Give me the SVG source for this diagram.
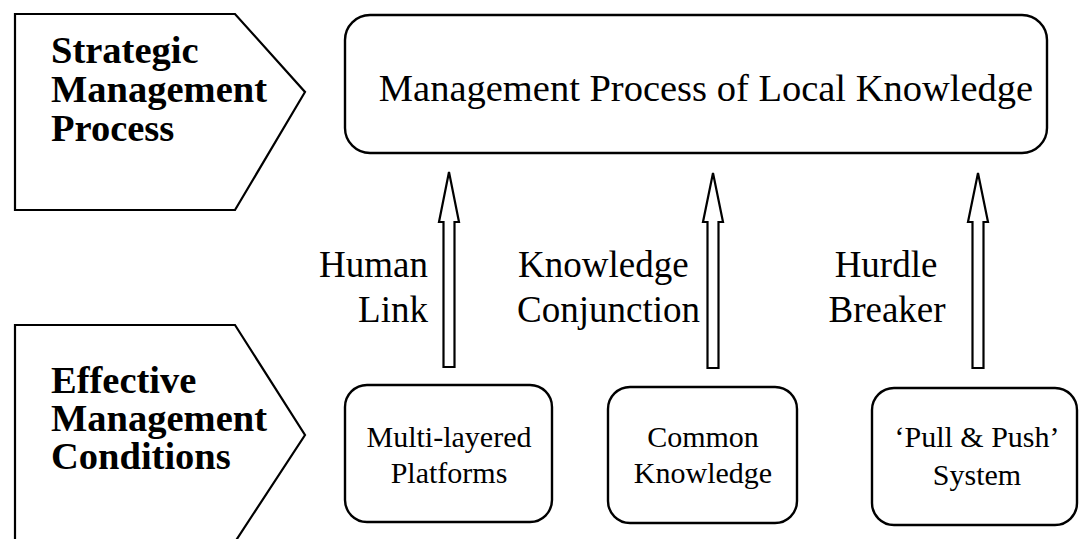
<svg xmlns="http://www.w3.org/2000/svg" width="1080" height="539" viewBox="0 0 1080 539">
<style>
.shape{fill:#fff;stroke:#000;stroke-width:2.2;stroke-linejoin:miter}
.box{fill:#fff;stroke:#000;stroke-width:2.4}
.bold{font-family:"Liberation Serif","Times New Roman",serif;font-weight:bold;font-size:38.5px;fill:#000}
.reg{font-family:"Liberation Serif","Times New Roman",serif;font-size:37px;fill:#000}
.top{font-family:"Liberation Serif","Times New Roman",serif;font-size:38.5px;fill:#000}
.small{font-family:"Liberation Serif","Times New Roman",serif;font-size:30px;fill:#000;text-anchor:middle}
.arrow{fill:#fff;stroke:#000;stroke-width:2.2;stroke-linejoin:miter}
</style>
<rect width="1080" height="539" fill="#fff"/>
<g id="strategic-management-process">
<polygon class="shape" points="15,14 235,14 305,92 235,210 15,210"/>
<text class="bold" x="51" y="63">Strategic</text>
<text class="bold" x="51" y="102">Management</text>
<text class="bold" x="51" y="141">Process</text>
</g>
<g id="effective-management-conditions">
<polygon class="shape" points="15,325 235,325 305,435 233,545 15,545"/>
<text class="bold" x="51" y="393">Effective</text>
<text class="bold" x="51" y="431">Management</text>
<text class="bold" x="51" y="469">Conditions</text>
</g>
<g id="management-process">
<rect class="box" x="345" y="15" width="702" height="138" rx="25" ry="25"/>
<text class="top" x="706" y="101" text-anchor="middle">Management Process of Local Knowledge</text>
</g>
<g id="multi-layered-platforms">
<rect class="box" x="345" y="385" width="207" height="137" rx="22" ry="22"/>
<text class="small" x="449" y="447">Multi-layered</text>
<text class="small" x="449" y="483">Platforms</text>
</g>
<g id="common-knowledge">
<rect class="box" x="608" y="387" width="189" height="136" rx="22" ry="22"/>
<text class="small" x="703" y="447">Common</text>
<text class="small" x="703" y="483">Knowledge</text>
</g>
<g id="pull-push-system">
<rect class="box" x="872" y="388" width="205" height="137" rx="22" ry="22"/>
<text class="small" x="977" y="447">‘Pull &amp; Push’</text>
<text class="small" x="977" y="485">System</text>
</g>
<g id="connectors">
<polygon class="arrow" points="443.5,367 443.5,222 439,222 449,172 459,222 454.5,222 454.5,367"/>
<polygon class="arrow" points="707.5,368 707.5,222 703,222 713,173 723,222 718.5,222 718.5,368"/>
<polygon class="arrow" points="972.5,368 972.5,222 968,222 978,173 988,222 983.5,222 983.5,368"/>
<text class="reg" x="428" y="277" text-anchor="end">Human</text>
<text class="reg" x="428" y="322" text-anchor="end">Link</text>
<text class="reg" x="518" y="277">Knowledge</text>
<text class="reg" x="517" y="322">Conjunction</text>
<text class="reg" x="886" y="277" text-anchor="middle">Hurdle</text>
<text class="reg" x="887" y="322" text-anchor="middle">Breaker</text>
</g>
</svg>
